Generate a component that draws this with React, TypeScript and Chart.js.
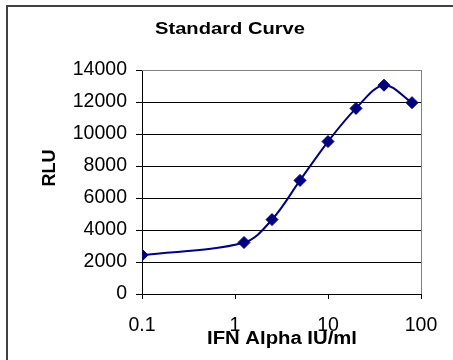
import React, { useEffect, useRef } from "react";
import { Chart, registerables } from "chart.js";

Chart.register(...registerables);

// ---- data ----
const concentrations = [0.1, 1.25, 2.5, 5, 10, 20, 40, 80];
const rluValues = [2430, 3220, 4650, 7100, 9530, 11600, 13050, 11960];
const xTickValues = [0.1, 1, 10, 100];
const yMin = 0;
const yMax = 14000;
const yStep = 2000;
const chartTitle = "Standard Curve";
const xTitle = "IFN Alpha IU/ml";
const yTitle = "RLU";

const FONT = "'Liberation Sans', Arial, Helvetica, sans-serif";
const NAVY = "#000080";

function drawText(
  ctx: CanvasRenderingContext2D,
  text: string,
  x: number,
  y: number,
  font: string,
  targetWidth: number | null,
  rot: number
) {
  ctx.save();
  ctx.font = font;
  const w = ctx.measureText(text).width;
  const sx = targetWidth ? targetWidth / w : 1;
  ctx.translate(x, y);
  if (rot) ctx.rotate(rot);
  ctx.scale(sx, 1);
  ctx.textAlign = "center";
  ctx.textBaseline = "alphabetic";
  ctx.fillStyle = "#000";
  ctx.fillText(text, 0, 0);
  ctx.restore();
}

const decorPlugin = {
  id: "decor",
  beforeDraw(chart: any) {
    const ctx = chart.ctx;
    ctx.save();
    ctx.fillStyle = "#fff";
    ctx.fillRect(0, 0, chart.width, chart.height);
    ctx.restore();
  },
  beforeDatasetsDraw(chart: any) {
    const ctx = chart.ctx;
    const a = chart.chartArea;
    ctx.save();
    ctx.fillStyle = "#808080";
    ctx.fillRect(a.left, a.top, a.right - a.left + 1, 1);
    ctx.fillRect(a.right, a.top, 1, a.bottom - a.top);
    ctx.restore();
  },
  afterDraw(chart: any) {
    const ctx = chart.ctx;
    ctx.save();
    ctx.fillStyle = "#404040";
    ctx.fillRect(6, 5, chart.width - 6, 2);
    ctx.fillRect(6, 5, 2, chart.height - 5);
    ctx.restore();
    drawText(ctx, chartTitle, 230, 33.5, `bold 17px ${FONT}`, 150, 0);
    drawText(ctx, xTitle, 282, 344, `bold 17.5px ${FONT}`, 150, 0);
    drawText(ctx, yTitle, 55, 168, `bold 18px ${FONT}`, null, -Math.PI / 2);
  },
};

export default function App() {
  const ref = useRef<HTMLCanvasElement | null>(null);

  useEffect(() => {
    if (!ref.current) return;
    const chart = new Chart(ref.current, {
      type: "line",
      data: {
        datasets: [
          {
            label: "RLU",
            data: concentrations.map((c, i) => ({ x: c, y: rluValues[i] })),
            borderColor: NAVY,
            backgroundColor: NAVY,
            borderWidth: 2,
            tension: 0.35,
            pointStyle: "rectRot",
            pointRadius: 6,
            pointBorderWidth: 1,
            pointBackgroundColor: NAVY,
            pointBorderColor: NAVY,
            fill: false,
          },
        ],
      },
      options: {
        responsive: false,
        animation: false,
        devicePixelRatio: 1,
        layout: { padding: { top: 70, right: 32, left: 0, bottom: 0 } },
        plugins: {
          legend: { display: false },
          title: { display: false },
          tooltip: { enabled: false },
        },
        scales: {
          x: {
            type: "logarithmic",
            min: 0.1,
            max: 100,
            afterBuildTicks: (s: any) => {
              s.ticks = xTickValues.map((v) => ({ value: v }));
            },
            afterFit: (s: any) => {
              s.height = 66;
            },
            ticks: {
              autoSkip: false,
              maxRotation: 0,
              padding: 15,
              color: "#000",
              font: { family: FONT, size: 19.5 },
              callback: (v: any) => String(v),
            },
            grid: {
              drawOnChartArea: false,
              drawTicks: true,
              tickLength: 5,
              tickColor: "#000",
              color: "#000",
            },
            border: { display: true, color: "#000", width: 1 },
          },
          y: {
            type: "linear",
            min: yMin,
            max: yMax,
            afterFit: (s: any) => {
              s.width = 142;
            },
            ticks: {
              stepSize: yStep,
              padding: 9,
              color: "#000",
              font: { family: FONT, size: 19.5 },
              callback: (v: any) => String(v),
            },
            grid: {
              color: "#000",
              lineWidth: 1,
              drawTicks: true,
              tickLength: 6,
              tickColor: "#000",
            },
            border: { display: true, color: "#000", width: 1 },
          },
        },
      },
      plugins: [decorPlugin],
    } as any);
    return () => chart.destroy();
  }, []);

  return (
    <div
      style={{
        position: "fixed",
        left: 0,
        top: 0,
        width: 453,
        height: 360,
        background: "#fff",
      }}
    >
      <canvas ref={ref} width={453} height={360} style={{ display: "block" }} />
    </div>
  );
}
